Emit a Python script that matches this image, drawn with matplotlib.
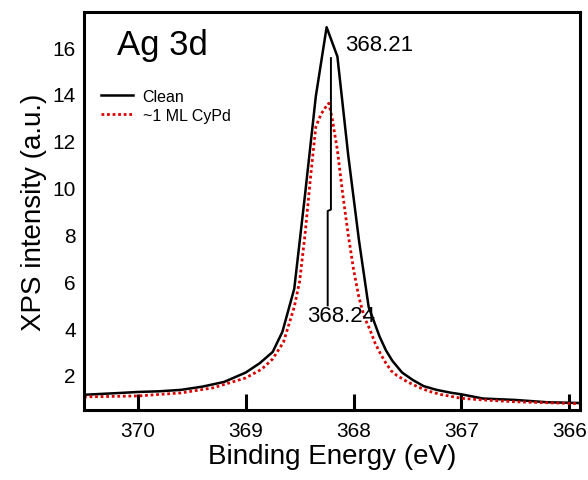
import matplotlib
matplotlib.use("Agg")
import matplotlib.pyplot as plt

plt.rcParams['font.family'] = ['Liberation Sans', 'DejaVu Sans']

# Clean Ag 3d spectrum
clean_be = [370.5, 370.2, 370.0, 369.8, 369.6, 369.4, 369.2, 369.0, 368.87, 368.75,
            368.66, 368.55, 368.45, 368.35, 368.25, 368.15, 368.05, 367.95, 367.86,
            367.76, 367.7, 367.64, 367.55, 367.45, 367.35, 367.23, 367.1, 367.0,
            366.8, 366.5, 366.2, 365.9]
clean_int = [1.15, 1.22, 1.27, 1.3, 1.36, 1.5, 1.7, 2.1, 2.5, 2.98,
             3.84, 5.68, 9.7, 13.9, 16.85, 15.6, 11.4, 7.75, 4.9,
             3.65, 3.05, 2.6, 2.1, 1.78, 1.52, 1.36, 1.24, 1.17,
             0.99, 0.93, 0.83, 0.8]

# ~1 ML CyPd spectrum
cypd_be = [370.5, 370.0, 369.6, 369.3, 369.0, 368.85, 368.75, 368.65, 368.55, 368.5,
           368.45, 368.4, 368.35, 368.3, 368.25, 368.23, 368.2, 368.15, 368.1, 368.05,
           368.0, 367.95, 367.9, 367.85, 367.8, 367.75, 367.7, 367.65, 367.6, 367.5,
           367.4, 367.3, 367.2, 367.0, 366.8, 366.5, 365.9]
cypd_int = [1.06, 1.1, 1.23, 1.45, 1.87, 2.25, 2.68, 3.4, 4.9, 6.0,
            8.0, 10.4, 12.6, 13.15, 13.5, 13.6, 13.0, 11.6, 9.7, 8.0,
            6.5, 5.3, 4.46, 3.95, 3.35, 2.9, 2.5, 2.17, 1.98, 1.7,
            1.48, 1.3, 1.17, 1.0, 0.93, 0.85, 0.77]

# peak position markers
peak_clean = 368.21
peak_cypd = 368.24

fig = plt.figure(figsize=(5.88, 4.81), dpi=100)
ax = fig.add_axes([84/588, 1-411/481, 496/588, 398/481])

ax.plot(clean_be, clean_int, color='black', lw=1.8, label='Clean')
ax.plot(cypd_be, cypd_int, color='#dd0000', lw=2.0, ls=(0, (1, 1)), label='~1 ML CyPd')

# marker line from clean peak down to CyPd label
ax.plot([peak_clean, peak_clean, peak_cypd, peak_cypd], [15.53, 9.06, 9.0, 4.97],
        color='black', lw=1.4)
ax.text(368.083, 15.87, '368.21', fontsize=16, ha='left', va='baseline')
ax.text(368.435, 4.3, '368.24', fontsize=16, ha='left', va='baseline')

ax.text(0.066, 0.895, 'Ag 3d', transform=ax.transAxes, fontsize=25, ha='left', va='baseline')

ax.set_xlim(370.5, 365.9)
ax.set_ylim(0.5, 17.5)
ax.set_xticks([370, 369, 368, 367, 366])
ax.set_yticks([2, 4, 6, 8, 10, 12, 14, 16])
ax.tick_params(axis='x', direction='in', length=11.5, width=2.2, labelsize=15, pad=8)
ax.tick_params(axis='y', length=0, labelsize=15, pad=6)
for s in ax.spines.values():
    s.set_linewidth(2.2)

ax.set_xlabel('Binding Energy (eV)', fontsize=20, labelpad=2)
ax.set_ylabel('XPS intensity (a.u.)', fontsize=20, labelpad=4)

ax.legend(loc='upper left', bbox_to_anchor=(17/496, 321/398), frameon=False,
          fontsize=11.5, handlelength=2.0, handletextpad=0.6, labelspacing=0.25,
          borderpad=0, borderaxespad=0)

fig.savefig('out.png', dpi=100)
